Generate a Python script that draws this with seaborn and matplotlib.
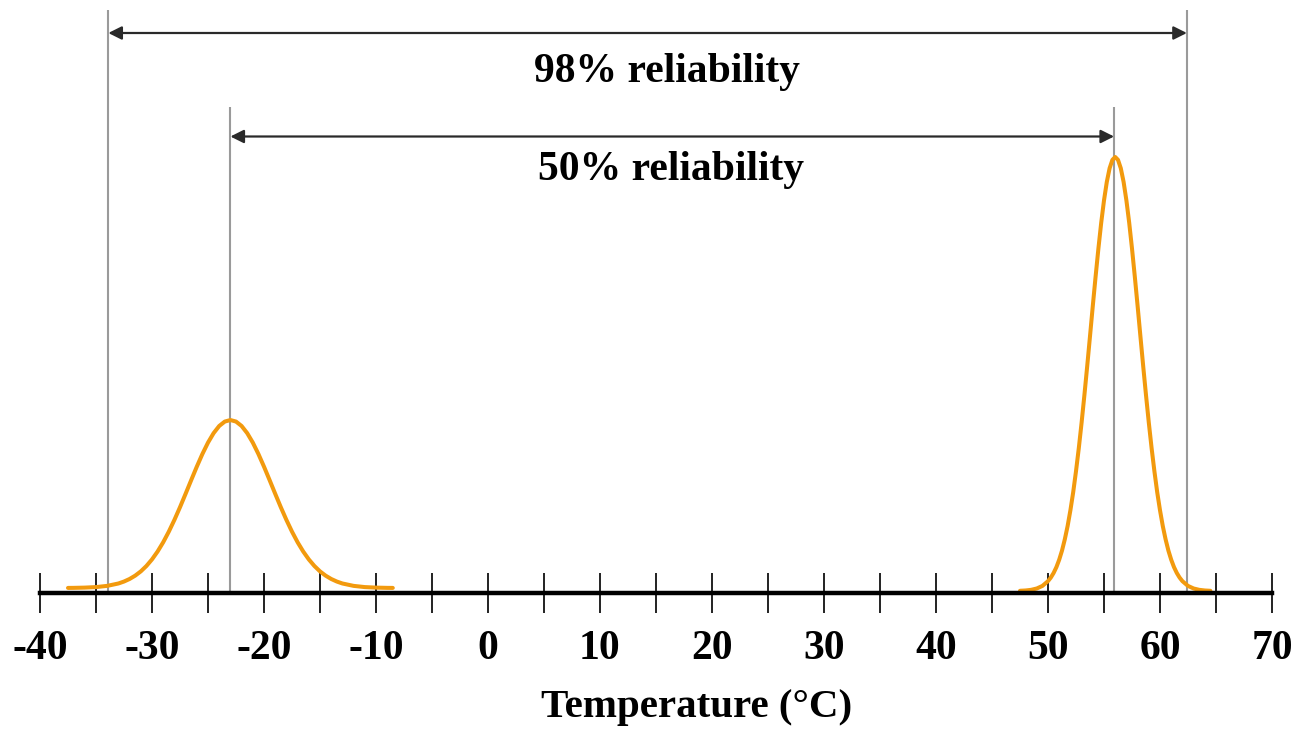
import numpy as np
import pandas as pd
import matplotlib
matplotlib.use("Agg")
import matplotlib.pyplot as plt
import seaborn as sns

# ---- data ----
# left distribution (cold side), heights relative to the right peak
left_temp = [-37.5, -37, -36, -35, -34, -33,
             -32.5, -32, -31.5, -31, -30.5, -30, -29.5, -29, -28.5, -28, -27.5, -27,
             -26.5, -26, -25.5, -25, -24.5, -24, -23.5, -23, -22.5, -22, -21.5, -21,
             -20.5, -20, -19.5, -19, -18.5, -18, -17.5, -17, -16.5, -16, -15.5, -15,
             -14.5, -14, -13.5, -13, -12, -11, -10, -9, -8.5]
left_height = [0.0002, 0.0003, 0.0009, 0.0021, 0.0049, 0.0104,
               0.0149, 0.0208, 0.0285, 0.0383, 0.0507, 0.0659, 0.0841, 0.1054, 0.1298, 0.1569,
               0.1862, 0.2171, 0.2486, 0.2796, 0.3088, 0.3350, 0.3568, 0.3733, 0.3835, 0.387,
               0.3835, 0.3733, 0.3568, 0.3350, 0.3088, 0.2796, 0.2486, 0.2171, 0.1862, 0.1569,
               0.1298, 0.1054, 0.0841, 0.0659, 0.0507, 0.0383, 0.0285, 0.0208, 0.0149, 0.0104,
               0.0049, 0.0021, 0.0009, 0.0003, 0.0002]

# right distribution (hot side)
right_temp = [47.5, 48, 48.5, 49, 49.5,
              50, 50.25, 50.5, 50.75, 51, 51.25, 51.5, 51.75, 52, 52.25, 52.5, 52.75,
              53, 53.25, 53.5, 53.75, 54, 54.25, 54.5, 54.75, 55, 55.25, 55.5, 55.75,
              56, 56.25, 56.5, 56.75, 57, 57.25, 57.5, 57.75, 58, 58.25, 58.5, 58.75,
              59, 59.25, 59.5, 59.75, 60, 60.25, 60.5, 60.75, 61, 61.25, 61.5, 61.75, 62,
              62.5, 63, 63.5, 64, 64.5]
right_height = [0.0005, 0.0012, 0.0027, 0.0058, 0.0117,
                0.0227, 0.0309, 0.0415, 0.0550, 0.0721, 0.0931, 0.119, 0.1495, 0.186, 0.2277,
                0.276, 0.3292, 0.388, 0.4513, 0.518, 0.5871, 0.657, 0.7246, 0.789, 0.8484,
                0.900, 0.9425, 0.974, 0.9934, 1.0, 0.9934, 0.974, 0.9425, 0.900, 0.8484,
                0.789, 0.7246, 0.657, 0.5871, 0.518, 0.4513, 0.388, 0.3292, 0.276, 0.2277,
                0.186, 0.1495, 0.119, 0.0931, 0.0721, 0.0550, 0.0415, 0.0309, 0.0227,
                0.0117, 0.0058, 0.0027, 0.0012, 0.0005]

# reliability bounds (°C)
rel98_bounds = [-33.9, 62.4]
rel50_bounds = [-23.0, 55.9]
rel_labels = ["98% reliability", "50% reliability"]

major_ticks = [-40, -30, -20, -10, 0, 10, 20, 30, 40, 50, 60, 70]
major_labels = ["-40", "-30", "-20", "-10", "0", "10", "20", "30", "40", "50", "60", "70"]
minor_ticks = [-35, -25, -15, -5, 5, 15, 25, 35, 45, 55, 65]
xlabel = "Temperature (°C)"

# ---- style ----
sns.set_style("white")
plt.rcParams["font.family"] = ["Liberation Serif", "DejaVu Serif"]
plt.rcParams["font.weight"] = "bold"
plt.rcParams["text.color"] = "black"
plt.rcParams["xtick.color"] = "black"

W, H = 1311, 729
fig = plt.figure(figsize=(W / 100, H / 100), dpi=100)
ax = fig.add_axes([0, 0, 1, 1])

# pixel helpers for layout only
PXU = 11.2          # px per °C
BASE = 591          # baseline pixel row
YPX = 434           # px per unit height
def yd(px):
    return (BASE - px) / YPX
def xd(px):
    return -40 + (px - 40) / PXU

ax.set_xlim(xd(0), xd(W))
ax.set_ylim(yd(H), yd(0))

orange = "#F29A0E"
left_df = pd.DataFrame({"temp": left_temp, "h": np.array(left_height) + 3 / YPX})
right_df = pd.DataFrame({"temp": right_temp, "h": right_height})
sns.lineplot(data=left_df, x="temp", y="h", ax=ax, color=orange, lw=2.9, estimator=None)
sns.lineplot(data=right_df, x="temp", y="h", ax=ax, color=orange, lw=2.9, estimator=None)
for ln in ax.lines:
    ln.set_solid_joinstyle("round")
    ln.set_solid_capstyle("round")

# vertical reliability lines
axis_y = yd(593)
ax.vlines(rel98_bounds, axis_y, yd(10), color="#9a9a9a", lw=1.5, zorder=1)
ax.vlines(rel50_bounds, axis_y, yd(107), color="#9a9a9a", lw=1.5, zorder=1)

# arrows
for bounds, ypx in [(rel98_bounds, 33), (rel50_bounds, 136.5)]:
    ax.annotate("", xy=(bounds[1], yd(ypx)), xytext=(bounds[0], yd(ypx)),
                arrowprops=dict(arrowstyle="<|-|>", color="#2a2a2a", lw=1.6,
                                mutation_scale=20, shrinkA=0, shrinkB=0))

ax.text(xd(667), yd(82), rel_labels[0], ha="center", va="baseline",
        fontsize=30, fontweight="bold", color="black")
ax.text(xd(671), yd(180), rel_labels[1], ha="center", va="baseline",
        fontsize=30, fontweight="bold", color="black")
ax.text(xd(697), yd(717), xlabel, ha="center", va="baseline",
        fontsize=29.5, fontweight="bold", color="black")

# axis
for s in ["top", "left", "right"]:
    ax.spines[s].set_visible(False)
ax.spines["bottom"].set_position(("data", axis_y))
ax.spines["bottom"].set_linewidth(3.2)
ax.spines["bottom"].set_color("black")
ax.spines["bottom"].set_bounds(-40, 70)
ax.set_xticks(major_ticks)
ax.set_xticklabels(major_labels)
ax.set_xticks(minor_ticks, minor=True)
ax.tick_params(axis="x", which="both", bottom=True, direction="inout", length=29,
               width=1.4, color="#222222")
ax.tick_params(axis="x", which="major", labelsize=30, pad=12, labelcolor="black")
for lab in ax.get_xticklabels():
    lab.set_fontweight("bold")
ax.set_yticks([])
ax.set_xlabel("")
ax.set_ylabel("")
ax.grid(False)

fig.savefig("out.png", dpi=100, facecolor="white")
